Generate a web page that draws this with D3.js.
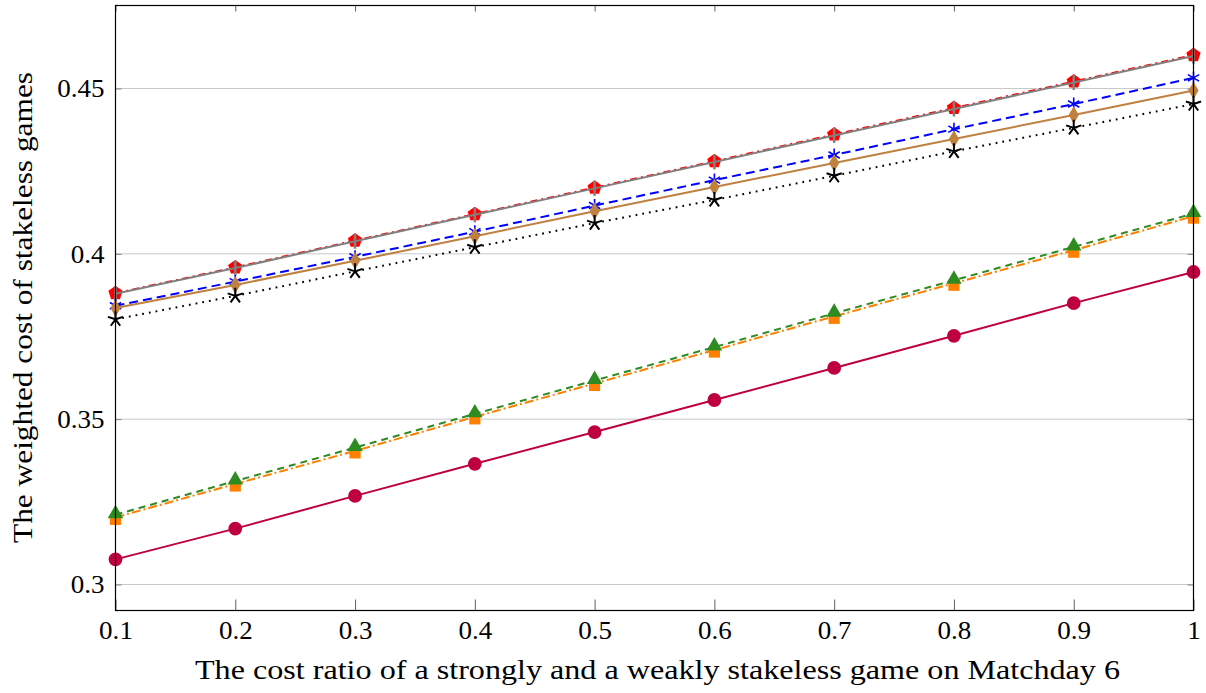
<!DOCTYPE html>
<html><head><meta charset="utf-8">
<script src="https://cdn.jsdelivr.net/npm/d3@7"></script>
<style>body{margin:0;background:#fff}svg{display:block}text{font-family:"Liberation Serif","DejaVu Serif",serif;fill:#000}</style>
</head><body><svg id="c" width="1206" height="693"></svg>
<script>
const xValues = [0.1,0.2,0.3,0.4,0.5,0.6,0.7,0.8,0.9,1.0];
const xTicks = [0.1,0.2,0.3,0.4,0.5,0.6,0.7,0.8,0.9,1];
const yTicks = [0.3,0.35,0.4,0.45];
const crimsonVals = [0.3076,0.3169,0.3268,0.3365,0.3461,0.3558,0.3655,0.3752,0.3851,0.3945];
const orangeVals  = [0.3203,0.3304,0.3404,0.3507,0.3608,0.3709,0.3811,0.3911,0.4011,0.4114];
const greenVals   = [0.3211,0.3313,0.3414,0.3516,0.3617,0.3718,0.3820,0.3920,0.4021,0.4122];
const redVals     = [0.3881,0.3959,0.4040,0.4120,0.4200,0.4280,0.4361,0.4441,0.4521,0.4601];
const grayVals    = [0.3879,0.3957,0.4038,0.4118,0.4198,0.4278,0.4358,0.4438,0.4518,0.4598];
const blueVals    = [0.3843,0.3916,0.3991,0.4067,0.4146,0.4223,0.4299,0.4377,0.4453,0.4532];
const brownVals   = [0.3836,0.3906,0.3979,0.4053,0.4129,0.4202,0.4275,0.4347,0.4420,0.4494];
const blackVals   = [0.3802,0.3873,0.3947,0.4020,0.4093,0.4163,0.4236,0.4310,0.4381,0.4453];
const xLabel = "The cost ratio of a strongly and a weakly stakeless game on Matchday 6";
const yLabel = "The weighted cost of stakeless games";

const series = [
  {v:orangeVals, c:"#FF8000", dash:"9,3,2,3", m:"square"},
  {v:greenVals, c:"#2E8B22", dash:"7,5", m:"triangle"},
  {v:crimsonVals, c:"#BF0040", dash:null, m:"circle"},
  {v:redVals, c:"#FF0000", dash:"7,4,2,4", m:"pentagon"},
  {v:grayVals, c:"#808080", dash:null, m:"bar"},
  {v:blueVals, c:"#0000FF", dash:"9,5", m:"asterisk"},
  {v:brownVals, c:"#BF8040", dash:null, m:"diamond"},
  {v:blackVals, c:"#000000", dash:"1.8,5", m:"star"}
];

const L=115.5, R=1193.5, T=5.5, B=610.5;
const x = d3.scaleLinear().domain([0.1,1]).range([L,R]);
const y = d3.scaleLinear().domain([0.3,0.45]).range([584.5,88.5]);
const svg = d3.select("#c");

// grid
svg.append("g").selectAll("line").data(yTicks).join("line")
  .attr("x1",L).attr("x2",R).attr("y1",d=>y(d)).attr("y2",d=>y(d))
  .attr("stroke","#c8c8c8").attr("stroke-width",1);

// axes ticks
const yAxisL = d3.axisLeft(y).tickValues(yTicks).tickSize(-6).tickPadding(11).tickFormat(d=>String(+d.toFixed(2)));
const gy = svg.append("g").attr("transform",`translate(${L},0)`).call(yAxisL);
gy.select(".domain").remove();
gy.selectAll("line").attr("stroke","#808080");
gy.selectAll("text").attr("font-size",25.5).style("font-family","'Liberation Serif',serif")
  .attr("textLength",function(){return this.getComputedTextLength()*1.06;}).attr("lengthAdjust","spacingAndGlyphs");
const gyr = svg.append("g").attr("transform",`translate(${R},0)`).call(d3.axisRight(y).tickValues(yTicks).tickSize(-6).tickFormat(""));
gyr.select(".domain").remove(); gyr.selectAll("line").attr("stroke","#808080");

const xAxisB = d3.axisBottom(x).tickValues(xTicks).tickSize(-11).tickPadding(10).tickFormat(d=>String(+d.toFixed(1)));
const gx = svg.append("g").attr("transform",`translate(0,${B})`).call(xAxisB);
gx.select(".domain").remove();
gx.selectAll("line").attr("stroke","#606060");
gx.selectAll("text").attr("font-size",25.5).style("font-family","'Liberation Serif',serif")
  .attr("textLength",function(){return this.getComputedTextLength()*1.06;}).attr("lengthAdjust","spacingAndGlyphs");
const gxt = svg.append("g").attr("transform",`translate(0,${T})`).call(d3.axisTop(x).tickValues(xTicks).tickSize(-6).tickFormat(""));
gxt.select(".domain").remove(); gxt.selectAll("line").attr("stroke","#606060");

// lines
const line = d3.line().x((d,i)=>x(xValues[i])).y(d=>y(d));
const sym = {
  circle: d3.symbol(d3.symbolCircle, 150),
  square: d3.symbol(d3.symbolSquare, 125),
  triangle: d3.symbol(d3.symbolTriangle, 105),
  diamond: d3.symbol(d3.symbolDiamond, 90),
};
function pentagon(r){const p=[];for(let k=0;k<5;k++){const a=-Math.PI/2+k*2*Math.PI/5;p.push([r*Math.cos(a),r*Math.sin(a)]);}return "M"+p.join("L")+"Z";}
function asterisk(r){let s="";for(let k=0;k<3;k++){const a=Math.PI/2+k*Math.PI/3;s+=`M${r*Math.cos(a)},${r*Math.sin(a)}L${-r*Math.cos(a)},${-r*Math.sin(a)}`;}return s;}
function star(r){let s="";for(let k=0;k<5;k++){const a=-Math.PI/2+k*2*Math.PI/5;s+=`M0,0L${r*Math.cos(a)},${r*Math.sin(a)}`;}return s;}

series.forEach(s=>{
  const g = svg.append("g");
  g.append("path").datum(s.v).attr("d",line).attr("fill","none").attr("stroke",s.c)
    .attr("stroke-width",2).attr("stroke-dasharray",s.dash);
  const pts = g.selectAll("path.m").data(s.v).join("path").attr("class","m")
    .attr("transform",(d,i)=>`translate(${x(xValues[i])},${y(d)})`);
  if (s.m==="pentagon") pts.attr("d",pentagon(7.5)).attr("fill",s.c);
  else if (s.m==="bar") pts.attr("d","M0,-7.5L0,7.5").attr("stroke",s.c).attr("stroke-width",2.5);
  else if (s.m==="asterisk") pts.attr("d",asterisk(6.5)).attr("stroke",s.c).attr("stroke-width",1.6).attr("fill","none");
  else if (s.m==="star") pts.attr("d",star(8)).attr("stroke",s.c).attr("stroke-width",2).attr("fill","none");
  else if (s.m==="square") pts.attr("d",sym.square()).attr("fill",s.c).attr("transform",(d,i)=>`translate(${x(xValues[i])},${y(d)+2})`);
  else if (s.m==="triangle") pts.attr("d",sym.triangle()).attr("fill",s.c).attr("transform",(d,i)=>`translate(${x(xValues[i])},${y(d)-1})`);
  else pts.attr("d",sym[s.m]()).attr("fill",s.c);
});

// frame
svg.append("rect").attr("x",L).attr("y",T).attr("width",R-L).attr("height",B-T)
  .attr("fill","none").attr("stroke","#000").attr("stroke-width",1.2);

svg.append("text").attr("x",(L+R)/2+3).attr("y",679).attr("text-anchor","middle")
  .attr("font-size",28).attr("textLength",925).attr("lengthAdjust","spacingAndGlyphs").text(xLabel);
svg.append("text").attr("transform",`translate(32,307.5) rotate(-90)`).attr("text-anchor","middle")
  .attr("font-size",28).attr("textLength",471).attr("lengthAdjust","spacingAndGlyphs").text(yLabel);
</script></body></html>
